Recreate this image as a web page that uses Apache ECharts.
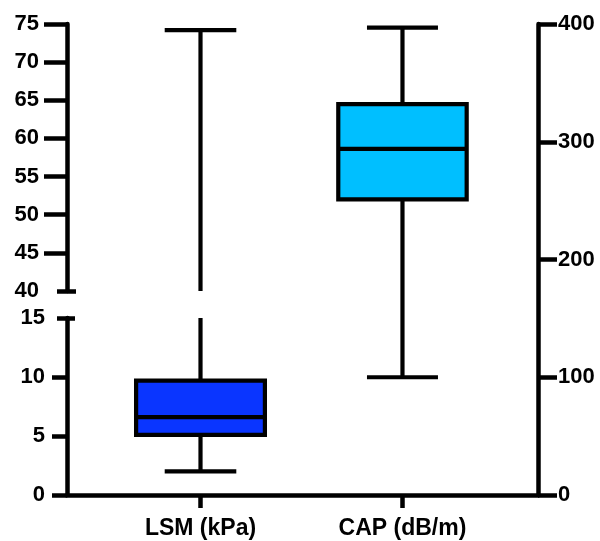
<!DOCTYPE html>
<html>
<head>
<meta charset="utf-8">
<script src="https://cdn.jsdelivr.net/npm/echarts@6/dist/echarts.min.js"></script>
<style>
  html, body { margin: 0; padding: 0; background: #fff; }
  #chart { width: 600px; height: 541px; }
</style>
</head>
<body>
<div id="chart"></div>
<script>
// Groups on the x axis
const categories = ['LSM (kPa)', 'CAP (dB/m)'];
// Five-number summaries: [min, Q1, median, Q3, max]
const lsmStats = [2.0, 5.1, 6.6, 9.7, 74.2];
const capStats = [100, 251, 294, 332, 397];
// Tick values of the broken left axis and of the right axis
const upperTicks = [40, 45, 50, 55, 60, 65, 70, 75];
const lowerTicks = [0, 5, 10, 15];
const rightTicks = [0, 100, 200, 300, 400];

const FONT_Y = { fontFamily: 'Liberation Sans, Arial, sans-serif', fontWeight: 'bold', fontSize: 22, color: '#000' };
const FONT_X = { fontFamily: 'Liberation Sans, Arial, sans-serif', fontWeight: 'bold', fontSize: 23, color: '#000' };
const LW = 4.2;
const black = { color: '#000', width: 4.5 };

// Plot geometry
const plotLeft = 67, plotWidth = 471;
const topY = 24, upperBottom = 291, lowerTop = 318, bottomY = 495;
const xMin = 0.339, xMax = 2.671;

function boxRenderer(halfBox, halfCap) {
  return function (params, api) {
    const x = api.value(0);
    const vals = [1, 2, 3, 4, 5].map(function (i) { return api.value(i); });
    const pt = vals.map(function (v) { return api.coord([x, v]); });
    const cx = pt[2][0];
    const yLo = pt[0][1], yQ1 = pt[1][1], yMed = pt[2][1], yQ3 = pt[3][1], yHi = pt[4][1];
    const s = { stroke: '#000', lineWidth: LW };
    return {
      type: 'group',
      children: [
        { type: 'line', shape: { x1: cx, y1: yQ3, x2: cx, y2: yHi }, style: s },
        { type: 'line', shape: { x1: cx, y1: yQ1, x2: cx, y2: yLo }, style: s },
        { type: 'line', shape: { x1: cx - halfCap, y1: yHi, x2: cx + halfCap, y2: yHi }, style: s },
        { type: 'line', shape: { x1: cx - halfCap, y1: yLo, x2: cx + halfCap, y2: yLo }, style: s },
        { type: 'rect', shape: { x: cx - halfBox, y: yQ3, width: 2 * halfBox, height: yQ1 - yQ3 },
          style: { fill: api.visual('color'), stroke: '#000', lineWidth: LW } },
        { type: 'line', shape: { x1: cx - halfBox, y1: yMed, x2: cx + halfBox, y2: yMed }, style: s }
      ]
    };
  };
}

function hiddenX(gridIndex) {
  return { type: 'value', gridIndex: gridIndex, min: xMin, max: xMax, show: false };
}

function capAxis(gridIndex, min, max, value, length, inside) {
  return {
    type: 'value', gridIndex: gridIndex, position: 'left', min: min, max: max,
    axisLine: { show: false }, splitLine: { show: false }, axisLabel: { show: false },
    axisTick: { show: true, inside: inside, length: length, customValues: [value], lineStyle: black }
  };
}

const option = {
  animation: false,
  backgroundColor: '#fff',
  grid: [
    { left: plotLeft, width: plotWidth, top: topY, height: upperBottom - topY },
    { left: plotLeft, width: plotWidth, top: lowerTop, height: bottomY - lowerTop },
    { left: plotLeft, width: plotWidth, top: topY, height: bottomY - topY }
  ],
  xAxis: [
    hiddenX(0),
    hiddenX(1),
    {
      type: 'value', gridIndex: 2, position: 'bottom', min: xMin, max: xMax,
      axisLine: { show: true, onZero: false, lineStyle: black },
      splitLine: { show: false },
      axisTick: { show: true, length: 13, lineStyle: black, customValues: [1, 2] },
      axisLabel: Object.assign({ margin: 22, customValues: [1, 2],
        formatter: function (v) { return categories[Math.round(v) - 1]; } }, FONT_X)
    }
  ],
  yAxis: [
    // upper segment of the left axis
    {
      type: 'value', gridIndex: 0, position: 'left', min: upperTicks[0], max: upperTicks[upperTicks.length - 1], interval: 5,
      axisLine: { show: true, onZero: false, lineStyle: black },
      splitLine: { show: false },
      axisTick: { show: true, length: 23, lineStyle: black, customValues: upperTicks.slice(1) },
      axisLabel: Object.assign({ margin: 28 }, FONT_Y)
    },
    capAxis(0, upperTicks[0], upperTicks[upperTicks.length - 1], upperTicks[0], 10, false),
    capAxis(0, upperTicks[0], upperTicks[upperTicks.length - 1], upperTicks[0], 9, true),
    // lower segment of the left axis
    {
      type: 'value', gridIndex: 1, position: 'left', min: lowerTicks[0], max: lowerTicks[lowerTicks.length - 1], interval: 5,
      axisLine: { show: true, onZero: false, lineStyle: black },
      splitLine: { show: false },
      axisTick: { show: true, length: 15, lineStyle: black, customValues: lowerTicks.slice(0, -1) },
      axisLabel: Object.assign({ margin: 22 }, FONT_Y)
    },
    capAxis(1, lowerTicks[0], lowerTicks[lowerTicks.length - 1], lowerTicks[lowerTicks.length - 1], 10, false),
    capAxis(1, lowerTicks[0], lowerTicks[lowerTicks.length - 1], lowerTicks[lowerTicks.length - 1], 8, true),
    // right axis for CAP
    {
      type: 'value', gridIndex: 2, position: 'right', min: rightTicks[0], max: rightTicks[rightTicks.length - 1], interval: 100,
      axisLine: { show: true, onZero: false, lineStyle: black },
      splitLine: { show: false },
      axisTick: { show: true, length: 19, lineStyle: black },
      axisLabel: Object.assign({ margin: 20 }, FONT_Y)
    }
  ],
  series: [
    {
      type: 'custom', name: categories[0], xAxisIndex: 0, yAxisIndex: 0, clip: true,
      itemStyle: { color: '#0A35FF' },
      encode: { x: 0, y: [1, 2, 3, 4, 5] },
      renderItem: boxRenderer(64.4, 35.8),
      data: [[1].concat(lsmStats)]
    },
    {
      type: 'custom', name: categories[0], xAxisIndex: 1, yAxisIndex: 3, clip: true,
      itemStyle: { color: '#0A35FF' },
      encode: { x: 0, y: [1, 2, 3, 4, 5] },
      renderItem: boxRenderer(64.4, 35.8),
      data: [[1].concat(lsmStats)]
    },
    {
      type: 'custom', name: categories[1], xAxisIndex: 2, yAxisIndex: 6, clip: true,
      itemStyle: { color: '#00BFFF' },
      encode: { x: 0, y: [1, 2, 3, 4, 5] },
      renderItem: boxRenderer(64.2, 35.5),
      data: [[2].concat(capStats)]
    }
  ]
};

const chart = echarts.init(document.getElementById('chart'), null, { renderer: 'canvas' });
chart.setOption(option);
</script>
</body>
</html>
